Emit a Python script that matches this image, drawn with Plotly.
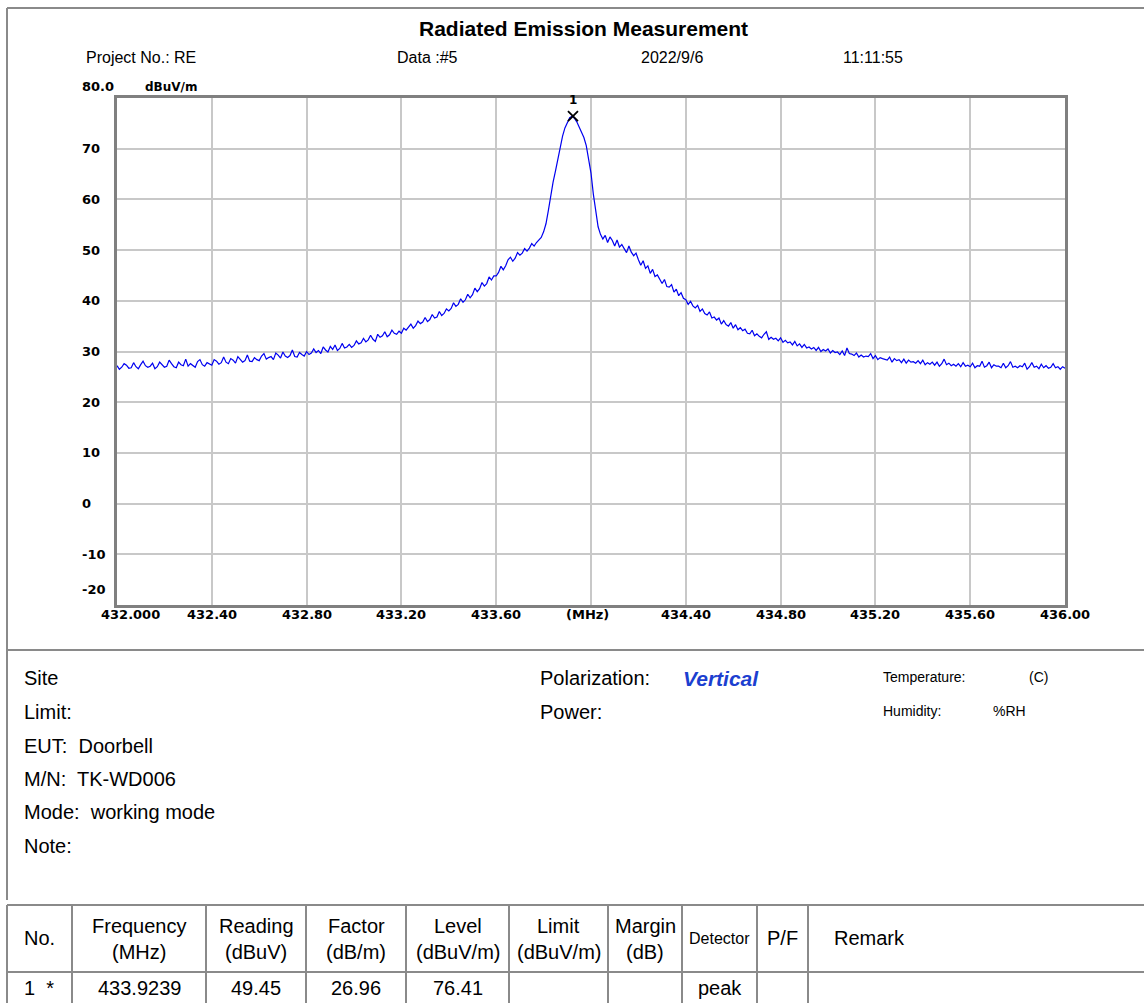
import plotly.graph_objects as go

W, H = 1144, 1003

# ---------------- data ----------------
FREQ_START_MHZ = 432.00
FREQ_STEP_MHZ = 0.01

LEVEL_DBUVM = [
    # 432.00 - 432.19
    27.2, 26.5, 26.9, 27.6, 27.3, 26.7, 26.8, 27.8, 27.0, 26.6, 27.4, 28.1, 27.2, 26.9, 27.1, 27.7, 26.6, 27.0, 27.9, 27.3,
    # 432.20 - 432.39
    26.9, 27.1, 28.3, 27.6, 27.0, 26.8, 27.9, 27.4, 27.2, 28.5, 27.1, 27.6, 27.3, 26.9, 28.0, 28.4, 27.4, 27.1, 27.8, 27.5,
    # 432.40 - 432.59
    27.3, 28.4, 28.1, 27.5, 27.8, 28.9, 27.9, 27.6, 28.6, 28.3, 27.7, 29.0, 28.4, 27.9, 28.2, 29.3, 28.1, 28.0, 28.8, 28.4,
    # 432.60 - 432.79
    28.2, 29.1, 29.6, 28.5, 28.8, 29.0, 28.4, 29.7, 29.3, 28.7, 29.9, 29.1, 28.8, 29.2, 30.3, 29.0, 28.9, 29.8, 29.4, 29.1,
    # 432.80 - 432.99
    30.0, 29.4, 29.7, 30.5, 29.8, 30.2, 29.6, 30.9, 30.3, 29.9, 31.0, 30.4, 31.3, 30.2, 30.6, 31.6, 30.7, 30.9, 31.4, 30.8,
    # 433.00 - 433.19
    31.2, 32.1, 31.5, 31.7, 32.6, 31.9, 32.3, 33.2, 32.4, 32.0, 33.4, 32.8, 33.1, 33.9, 32.9, 33.3, 34.2, 33.6, 33.4, 34.0,
    # 433.20 - 433.39
    33.6, 34.6, 34.2, 34.8, 35.4, 34.6, 35.1, 36.0, 35.5, 35.8, 36.7, 35.9, 36.3, 37.3, 36.6, 36.8, 37.9, 37.1, 37.5, 38.4,
    # 433.40 - 433.59
    38.0, 38.5, 39.6, 38.9, 39.3, 40.4, 39.7, 40.2, 41.3, 40.6, 41.2, 42.5, 41.8, 42.4, 43.6, 42.9, 43.4, 44.7, 44.1, 44.9,
    # 433.60 - 433.79
    44.9, 45.6, 46.8, 46.1, 46.9, 48.1, 48.6, 47.8, 48.4, 49.5, 49.0, 49.4, 50.3, 49.8, 50.4, 51.3, 50.8, 51.5, 52.0, 52.5,
    # 433.80 - 433.99
    53.6, 55.2, 57.8, 60.8, 63.4, 65.6, 68.0, 70.4, 72.5, 74.1, 75.3, 76.1, 76.4, 76.0, 75.3, 74.2, 73.4, 72.2, 70.6, 68.2,
    # 434.00 - 434.19
    65.2, 61.0, 57.4, 54.6, 53.1, 52.2, 52.9, 51.5, 52.6, 51.9, 50.8, 52.0, 50.6, 51.1, 50.3, 49.5, 50.8, 49.6, 48.9, 49.4,
    # 434.20 - 434.39
    48.1, 47.0, 47.9, 46.4, 46.9, 45.4, 46.2, 44.8, 45.1, 44.3, 43.4, 44.2, 42.8, 42.7, 43.2, 41.7, 42.3, 41.0, 41.6, 40.5,
    # 434.40 - 434.59
    40.2, 39.3, 39.9, 39.0, 38.6, 39.1, 37.9, 38.4, 37.5, 37.2, 37.8, 36.6, 36.8, 36.2, 36.6, 35.4, 36.1, 35.3, 35.0, 35.7,
    # 434.60 - 434.79
    34.6, 35.3, 34.3, 34.7, 34.1, 34.4, 33.6, 33.5, 34.2, 33.1, 33.5, 33.0, 32.7, 33.4, 33.9, 32.4, 32.8, 32.4, 32.6, 32.1,
    # 434.80 - 434.99
    32.7, 31.8, 32.2, 31.7, 31.9, 31.3, 32.0, 31.1, 31.5, 30.8, 31.4, 30.7, 30.9, 30.5, 30.8, 30.2, 30.8, 30.0, 30.4, 30.1,
    # 435.00 - 435.19
    30.5, 29.7, 30.2, 29.8, 29.9, 29.4, 30.1, 29.2, 30.7, 29.6, 29.5, 29.2, 29.7, 28.9, 29.3, 28.9, 29.1, 29.0, 29.6, 28.6,
    # 435.20 - 435.39
    29.2, 28.4, 28.8, 28.6, 28.5, 28.3, 28.9, 27.9, 28.6, 28.2, 28.4, 27.8, 28.5, 27.7, 28.3, 27.9, 28.0, 27.7, 28.2, 27.6,
    # 435.40 - 435.59
    28.3, 27.4, 27.8, 27.5, 27.9, 27.3, 27.9, 27.1, 27.6, 28.5, 27.4, 27.7, 27.2, 27.5, 27.1, 27.6, 27.0, 27.8, 27.1, 27.3,
    # 435.60 - 435.79
    27.0, 27.7, 26.8, 27.2, 27.1, 28.1, 26.9, 27.2, 27.9, 26.8, 27.4, 27.1, 27.1, 26.8, 27.7, 26.8, 27.2, 28.0, 26.9, 27.1,
    # 435.80 - 435.99
    26.8, 27.2, 27.0, 27.7, 26.5, 27.0, 27.8, 26.9, 27.1, 26.6, 27.5, 26.8, 27.2, 26.7, 26.9, 27.6, 26.8, 27.0, 26.5, 27.0,
    # 436.00
    26.7,
]
FREQ_MHZ = [round(FREQ_START_MHZ + i * FREQ_STEP_MHZ, 2) for i in range(len(LEVEL_DBUVM))]

MARKER_NO = ["1"]
MARKER_FREQ = [433.9239]
MARKER_LEVEL = [76.41]

X_TICK_VALS = [432.0, 432.4, 432.8, 433.2, 433.6, 434.0, 434.4, 434.8, 435.2, 435.6, 436.0]
X_TICK_TEXT = ["432.000", "432.40", "432.80", "433.20", "433.60", "(MHz)",
               "434.40", "434.80", "435.20", "435.60", "436.00"]
Y_TICK_VALS = [80, 70, 60, 50, 40, 30, 20, 10, 0, -10, -20]
Y_TICK_TEXT = ["80.0", "70", "60", "50", "40", "30", "20", "10", "0", "-10", "-20"]

TABLE_HEADER_1 = ["No.", "Frequency", "Reading", "Factor", "Level", "Limit", "Margin", "Detector", "P/F", "Remark"]
TABLE_HEADER_2 = ["", "(MHz)", "(dBuV)", "(dB/m)", "(dBuV/m)", "(dBuV/m)", "(dB)", "", "", ""]
TABLE_ROW_1 = ["1  *", "433.9239", "49.45", "26.96", "76.41", "", "", "peak", "", ""]

# ---------------- helpers ----------------
def px(x):
    return x / W

def py(y):
    return 1 - y / H

ARIAL = "Liberation Sans, Arial, sans-serif"
BMP = "DejaVu Sans, sans-serif"
FRAME = "#8a8a8a"
GRID = "#c8c8c8"

fig = go.Figure()
fig.add_trace(go.Scatter(
    x=FREQ_MHZ, y=LEVEL_DBUVM, mode="lines",
    line=dict(color="#0000f0", width=1.2), hoverinfo="skip", showlegend=False))
fig.add_trace(go.Scatter(
    x=MARKER_FREQ, y=MARKER_LEVEL, mode="markers",
    marker=dict(symbol="x-thin-open", size=10, color="black", line=dict(width=1.8, color="black")),
    hoverinfo="skip", showlegend=False))

ann = []
# marker number
for f, v, t in zip(MARKER_FREQ, MARKER_LEVEL, MARKER_NO):
    ann.append(dict(x=f, y=v, xref="x", yref="y", text="<b>%s</b>" % t, showarrow=False,
                    xanchor="center", yanchor="bottom", yshift=7,
                    font=dict(family=BMP, size=12, color="black")))
# y tick labels (left aligned like the reference)
for v, t in zip(Y_TICK_VALS, Y_TICK_TEXT):
    shift = 0
    if v == 80:
        shift = 11
    elif v == -20:
        shift = 16
    ann.append(dict(x=px(80), xref="paper", y=v, yref="y", text="<b>%s</b>" % t,
                    xanchor="left", yanchor="middle", yshift=shift, showarrow=False,
                    font=dict(family=BMP, size=13, color="black")))
# x tick labels
for i, (v, t) in enumerate(zip(X_TICK_VALS, X_TICK_TEXT)):
    ann.append(dict(x=v, xref="x", y=py(614), yref="paper", text="<b>%s</b>" % t,
                    xanchor="center", yanchor="middle", xshift=13 if i == 0 else (-4 if t == "(MHz)" else 0),
                    showarrow=False, font=dict(family=BMP, size=13, color="black")))
# unit label
ann.append(dict(x=px(143), y=py(87), xref="paper", yref="paper", text="<b>dBuV/m</b>",
                xanchor="left", yanchor="middle", showarrow=False,
                font=dict(family=BMP, size=12, color="black")))

def text(x, y, s, size=20, anchor="left", color="black", family=ARIAL):
    ann.append(dict(x=px(x), y=py(y), xref="paper", yref="paper", text=s,
                    xanchor=anchor, yanchor="middle", showarrow=False,
                    font=dict(family=family, size=size, color=color)))

# title & header
text(583, 29, "<b>Radiated Emission Measurement</b>", size=21, anchor="center")
text(84, 57, "Project No.: RE", size=16)
text(395, 57, "Data :#5", size=16)
text(639, 57, "2022/9/6", size=16)
text(841, 57, "11:11:55", size=16)

# info block
text(22, 678, "Site")
text(22, 712, "Limit:")
text(22, 746, "EUT:  Doorbell")
text(22, 779, "M/N:  TK-WD006")
text(22, 812, "Mode:  working mode")
text(22, 846, "Note:")
text(538, 678, "Polarization:")
text(681, 678, "<b><i>Vertical</i></b>", size=21, color="#1c3fd0")
text(538, 712, "Power:")
text(881, 677, "Temperature:", size=14)
text(1027, 677, "(C)", size=14)
text(881, 711, "Humidity:", size=14)
text(991, 711, "%RH", size=14)

# table
COL_X = [7, 72, 206, 306, 406, 509, 608, 682, 757, 808, 1144]
for i in range(len(TABLE_HEADER_1)):
    cx = (COL_X[i] + COL_X[i + 1]) / 2
    h1, h2 = TABLE_HEADER_1[i], TABLE_HEADER_2[i]
    size = 16 if h1 == "Detector" else 20
    if i == len(TABLE_HEADER_1) - 1:
        text(832, 938, h1, size=size)
    elif h2:
        text(cx, 926, h1, size=size, anchor="center")
        text(cx, 952, h2, size=size, anchor="center")
    else:
        text(cx, 938, h1, size=size, anchor="center")
    if TABLE_ROW_1[i]:
        text(cx, 988, TABLE_ROW_1[i], size=20, anchor="center")

shapes = []
def line(x0, y0, x1, y1, w=2, c=FRAME):
    shapes.append(dict(type="line", xref="paper", yref="paper",
                       x0=px(x0), y0=py(y0), x1=px(x1), y1=py(y1),
                       line=dict(color=c, width=w)))

line(7, 8, 1144, 8)
line(7, 8, 7, 900)
line(7, 650, 1144, 650)
line(7, 905, 1144, 905)
line(7, 972, 1144, 972)
for cx in COL_X[:-1]:
    line(cx, 905, cx, 1003)

fig.update_layout(
    width=W, height=H, margin=dict(l=0, r=0, t=0, b=0),
    paper_bgcolor="white", plot_bgcolor="white",
    annotations=ann, shapes=shapes, showlegend=False,
    xaxis=dict(domain=[px(117), px(1065)], range=[432.0, 436.0],
               tickvals=X_TICK_VALS, showticklabels=False, ticks="",
               showgrid=True, gridcolor=GRID, gridwidth=1.5, zeroline=False,
               showline=True, mirror=True, linecolor="#808080", linewidth=2.5),
    yaxis=dict(domain=[py(605), py(98)], range=[-20, 80],
               tickvals=Y_TICK_VALS, showticklabels=False, ticks="",
               showgrid=True, gridcolor=GRID, gridwidth=1.5, zeroline=False,
               showline=True, mirror=True, linecolor="#808080", linewidth=2.5),
)

fig.write_html("out.html", config={"displayModeBar": False},
               post_script="document.body.style.margin='0px';document.body.style.padding='0px';")
